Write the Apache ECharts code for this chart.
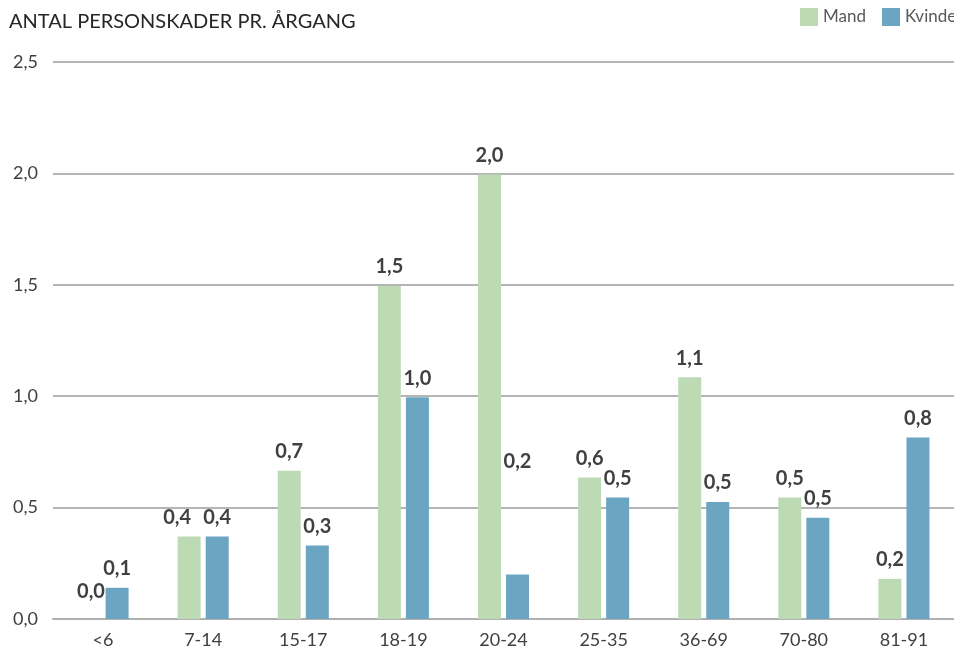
<!DOCTYPE html>
<html>
<head>
<meta charset="utf-8">
<script src="https://cdn.jsdelivr.net/npm/echarts@6/dist/echarts.min.js"></script>
<style>
html,body{margin:0;padding:0;background:#fff;}
#chart{width:954px;height:652px;}
</style>
</head>
<body>
<div id="chart"></div>
<script>
const categories = ['<6', '7-14', '15-17', '18-19', '20-24', '25-35', '36-69', '70-80', '81-91'];
const mand = [0.0, 0.37, 0.665, 1.495, 1.995, 0.635, 1.085, 0.545, 0.18];
const kvinder = [0.14, 0.37, 0.33, 0.995, 0.2, 0.545, 0.525, 0.455, 0.815];
const yTicks = [0, 0.5, 1.0, 1.5, 2.0, 2.5];
const seriesNames = ['Mand', 'Kvinder'];
const titleText = 'ANTAL PERSONSKADER PR. ÅRGANG';

const fmt = v => v.toFixed(1).replace('.', ',');
const FONT = 'Lato, "Open Sans", sans-serif';

const labelStyle = {
  show: true,
  position: 'top',
  distance: 9,
  fontFamily: FONT,
  fontSize: 20,
  fontWeight: 'bold',
  color: '#404040',
  formatter: p => fmt(p.value)
};

// special label offsets as in the reference
const mandOffsets = { 0: [2, -8], 1: [-12, 0] };
const kvinderOffsets = { 4: [0, -94] };
const mandData = mand.map((v, i) => mandOffsets[i] ? { value: v, label: { offset: mandOffsets[i] } } : v);
const kvinderData = kvinder.map((v, i) => kvinderOffsets[i] ? { value: v, label: { offset: kvinderOffsets[i] } } : v);

const chart = echarts.init(document.getElementById('chart'));
chart.setOption({
  animation: false,
  title: {
    text: titleText,
    left: 4, top: 7,
    textStyle: { fontFamily: FONT, fontSize: 20, fontWeight: 'normal', color: '#262626' }
  },
  legend: {
    data: seriesNames,
    orient: 'horizontal',
    left: 800, top: 8, width: 400,
    padding: 0,
    itemWidth: 18, itemHeight: 18, itemGap: 16,
    icon: 'rect',
    textStyle: { fontFamily: FONT, fontSize: 17, color: '#595959', padding: [5, 0, 0, 0] }
  },
  grid: { left: 53, right: -9, top: 62, bottom: 33, containLabel: false },
  xAxis: {
    type: 'category',
    data: categories,
    axisLine: { lineStyle: { color: '#b0b0b0', width: 2 } },
    axisTick: { show: false },
    axisLabel: { fontFamily: FONT, fontSize: 18, color: '#404040', margin: 12 }
  },
  yAxis: {
    type: 'value',
    min: yTicks[0], max: yTicks[yTicks.length - 1], interval: 0.5,
    axisLine: { show: false },
    axisTick: { show: false },
    splitLine: { lineStyle: { color: '#b5b5b5', width: 2 } },
    axisLabel: { fontFamily: FONT, fontSize: 18, color: '#404040', margin: 15, formatter: v => fmt(v) }
  },
  series: [
    { name: seriesNames[0], type: 'bar', data: mandData, barWidth: 23, barGap: '22%',
      itemStyle: { color: '#bcdbb4' }, label: labelStyle, z: 3 },
    { name: seriesNames[1], type: 'bar', data: kvinderData, barWidth: 23, barGap: '22%',
      itemStyle: { color: '#6ba5c2' }, label: labelStyle, z: 3 }
  ]
});
</script>
</body>
</html>
